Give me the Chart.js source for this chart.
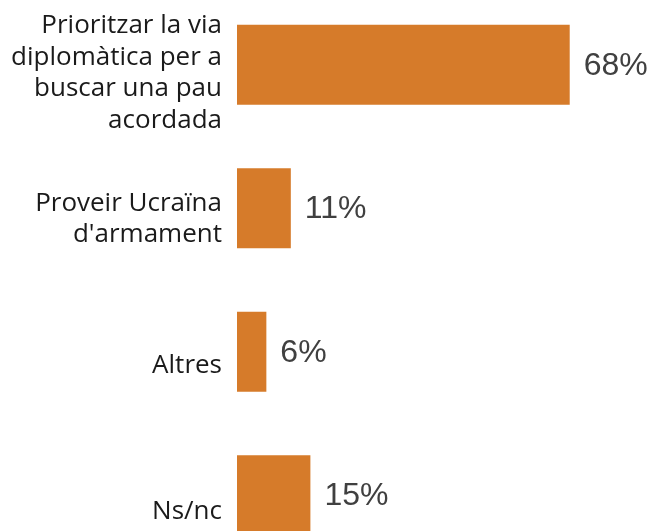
<!DOCTYPE html>
<html>
<head>
<meta charset="utf-8">
<script src="https://cdn.jsdelivr.net/npm/chart.js@4/dist/chart.umd.min.js"></script>
<style>
  html, body { margin: 0; padding: 0; background: #ffffff; overflow: hidden; }
  body { width: 651px; height: 531px; position: relative; }
  #wrap { position: absolute; left: 0; top: -7px; width: 651px; height: 574px; }
</style>
</head>
<body>
<div id="wrap"><canvas id="chart"></canvas></div>
<script>
// Survey answers (percent of respondents)
const categories = [
  ["Prioritzar la via", "diplomàtica per a", "buscar una pau", "acordada"],
  ["Proveir Ucraïna", "d'armament"],
  ["Altres"],
  ["Ns/nc"]
];
const values = [68, 11, 6, 15];
const valueLabels = ["68%", "11%", "6%", "15%"];

const BAR_COLOR = "#D67B2A";
const LABEL_FONT = "26px 'Open Sans', 'Noto Sans', sans-serif";
const VALUE_FONT = "32px 'Liberation Sans', Arial, sans-serif";

// Draws the category names left of the bars and the percentages after them
const labelPlugin = {
  id: "barLabels",
  afterDatasetsDraw(chart) {
    const ctx = chart.ctx;
    const yScale = chart.scales.y;
    const xScale = chart.scales.x;
    const left = chart.chartArea.left;
    const lineH = 31.7;
    ctx.save();
    categories.forEach((lines, i) => {
      const yc = yScale.getPixelForValue(i);
      // category name block
      ctx.font = LABEL_FONT;
      ctx.fillStyle = "#1a1a1a";
      ctx.textAlign = "right";
      ctx.textBaseline = "alphabetic";
      const mid = yc + 15.6 + 2.7 * i;
      const first = mid - (lines.length - 1) * lineH / 2;
      lines.forEach((ln, k) => ctx.fillText(ln, left - 15, first + k * lineH));
      // value text
      ctx.font = VALUE_FONT;
      ctx.fillStyle = "#404040";
      ctx.textAlign = "left";
      ctx.textBaseline = "middle";
      ctx.fillText(valueLabels[i], xScale.getPixelForValue(values[i]) + 14, yc + 1);
    });
    ctx.restore();
  }
};

new Chart(document.getElementById("chart"), {
  type: "bar",
  data: {
    labels: categories.map(l => l.join(" ")),
    datasets: [{
      data: values,
      backgroundColor: BAR_COLOR,
      borderWidth: 0,
      barPercentage: 0.556,
      categoryPercentage: 1.0
    }]
  },
  options: {
    indexAxis: "y",
    responsive: true,
    maintainAspectRatio: false,
    animation: false,
    layout: { padding: { left: 237, right: 3, top: 0, bottom: 0 } },
    plugins: { legend: { display: false }, tooltip: { enabled: false } },
    scales: {
      x: { display: false, min: 0, max: 84 },
      y: { display: false, offset: true }
    }
  },
  plugins: [labelPlugin]
});
</script>
</body>
</html>
